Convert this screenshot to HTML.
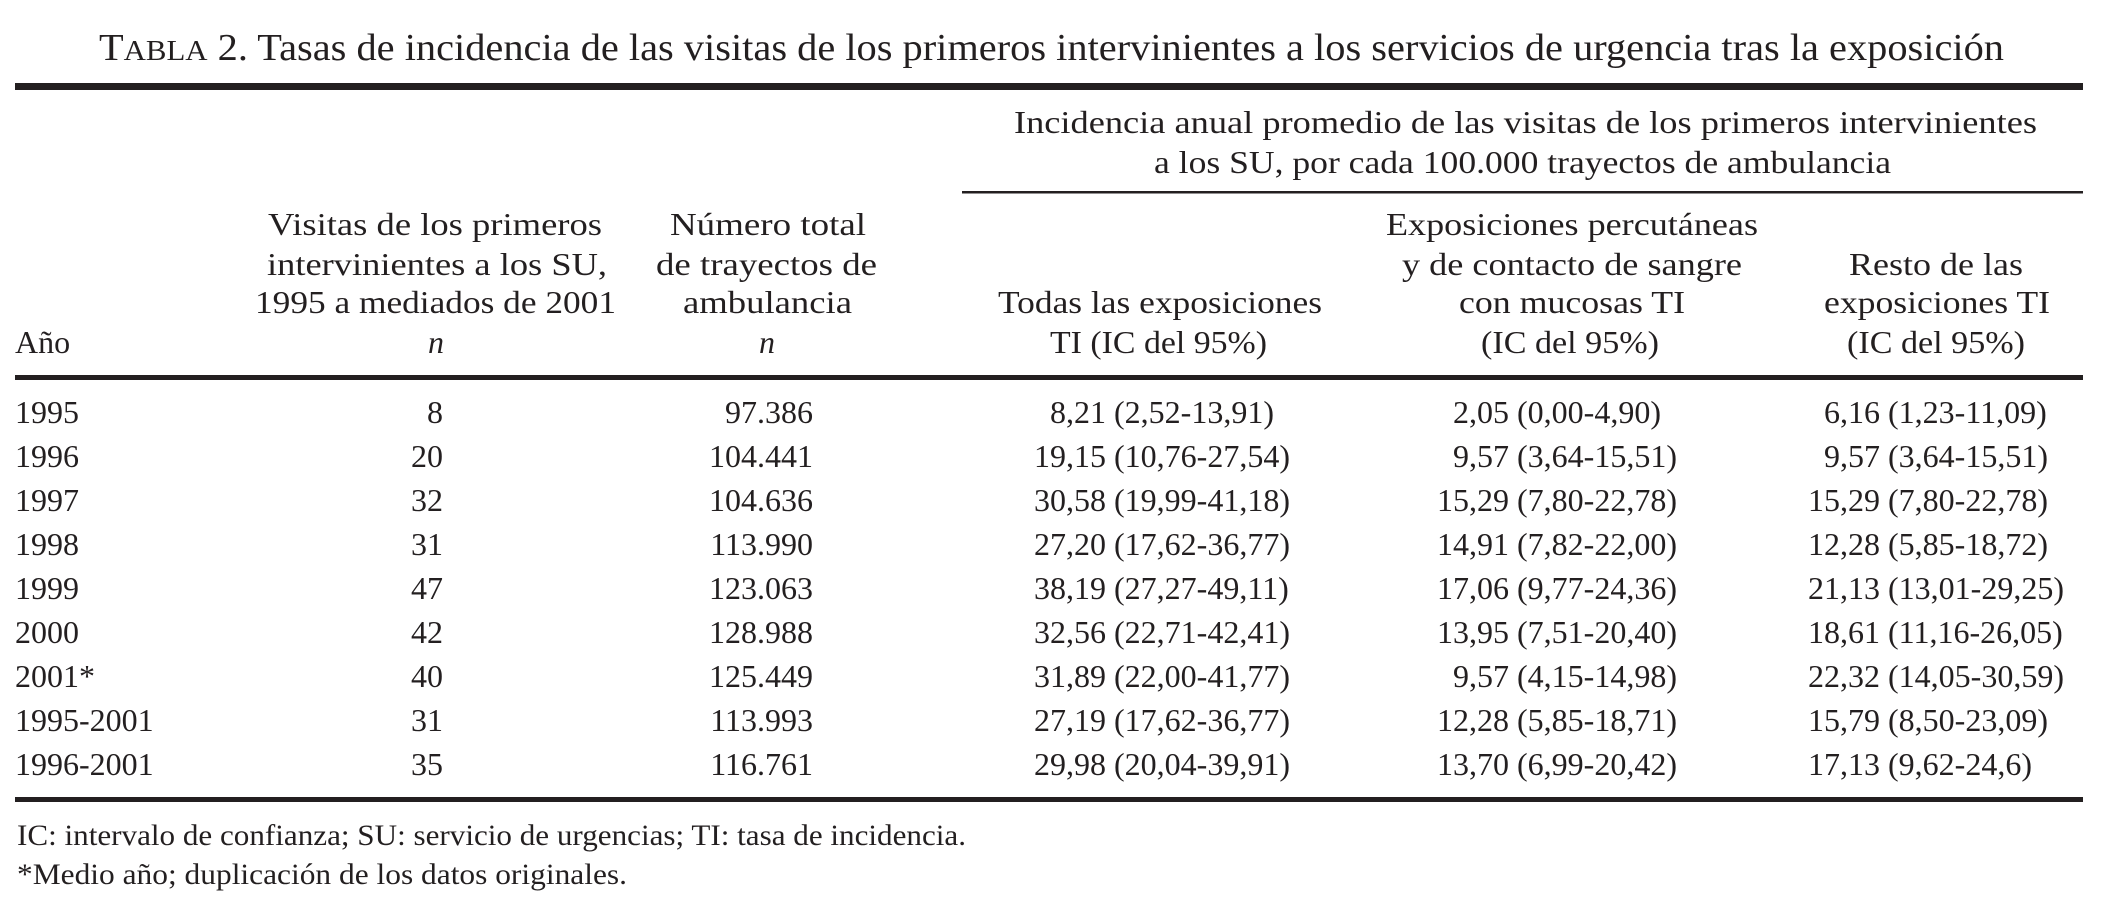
<!DOCTYPE html>
<html><head><meta charset="utf-8"><style>
html,body{margin:0;padding:0;background:#fff;}
svg{display:block;}
text{font-family:"Liberation Serif",serif;fill:#231f20;}
</style></head><body>
<svg id="t" width="2104" height="916" viewBox="0 0 2104 916">
<text x="99" y="60" font-size="38" textLength="1905" lengthAdjust="spacingAndGlyphs">T<tspan font-size="29">ABLA</tspan> 2. Tasas de incidencia de las visitas de los primeros intervinientes a los servicios de urgencia tras la exposición</text>
<rect x="15" y="83" width="2068" height="7" fill="#231f20"/>
<g font-size="32">
<text x="1014" y="133" textLength="1023" lengthAdjust="spacingAndGlyphs">Incidencia anual promedio de las visitas de los primeros intervinientes</text>
<text x="1154" y="173" textLength="737" lengthAdjust="spacingAndGlyphs">a los SU, por cada 100.000 trayectos de ambulancia</text>
</g>
<rect x="962" y="191" width="1121" height="2.5" fill="#231f20"/>
<g font-size="32">
<text x="15" y="353">Año</text>
<text x="268" y="235" textLength="334" lengthAdjust="spacingAndGlyphs">Visitas de los primeros</text>
<text x="267" y="275" textLength="340" lengthAdjust="spacingAndGlyphs">intervinientes a los SU,</text>
<text x="255" y="313" textLength="361" lengthAdjust="spacingAndGlyphs">1995 a mediados de 2001</text>
<text x="436" y="353" text-anchor="middle" font-style="italic">n</text>
<text x="670" y="235" textLength="196" lengthAdjust="spacingAndGlyphs">Número total</text>
<text x="656" y="275" textLength="221" lengthAdjust="spacingAndGlyphs">de trayectos de</text>
<text x="683" y="313" textLength="169" lengthAdjust="spacingAndGlyphs">ambulancia</text>
<text x="767" y="353" text-anchor="middle" font-style="italic">n</text>
<text x="998" y="313" textLength="324" lengthAdjust="spacingAndGlyphs">Todas las exposiciones</text>
<text x="1050" y="353" textLength="217" lengthAdjust="spacingAndGlyphs">TI (IC del 95%)</text>
<text x="1386" y="235" textLength="372" lengthAdjust="spacingAndGlyphs">Exposiciones percutáneas</text>
<text x="1402" y="275" textLength="340" lengthAdjust="spacingAndGlyphs">y de contacto de sangre</text>
<text x="1459" y="313" textLength="226" lengthAdjust="spacingAndGlyphs">con mucosas TI</text>
<text x="1481" y="353" textLength="178" lengthAdjust="spacingAndGlyphs">(IC del 95%)</text>
<text x="1849" y="275" textLength="174" lengthAdjust="spacingAndGlyphs">Resto de las</text>
<text x="1824" y="313" textLength="226" lengthAdjust="spacingAndGlyphs">exposiciones TI</text>
<text x="1847" y="353" textLength="178" lengthAdjust="spacingAndGlyphs">(IC del 95%)</text>
</g>
<rect x="15" y="375" width="2068" height="5" fill="#231f20"/>
<g id="body" font-size="32"></g>
<rect x="15" y="797" width="2068" height="5" fill="#231f20"/>
<text x="17" y="845" font-size="30" textLength="949" lengthAdjust="spacingAndGlyphs">IC: intervalo de confianza; SU: servicio de urgencias; TI: tasa de incidencia.</text>
<text x="17" y="884" font-size="30" textLength="610" lengthAdjust="spacingAndGlyphs">*Medio año; duplicación de los datos originales.</text>
</svg>
<script>
const years = ["1995","1996","1997","1998","1999","2000","2001*","1995-2001","1996-2001"];
const visits = ["8","20","32","31","47","42","40","31","35"];
const trips = ["97.386","104.441","104.636","113.990","123.063","128.988","125.449","113.993","116.761"];
const allRate = ["8,21","19,15","30,58","27,20","38,19","32,56","31,89","27,19","29,98"];
const allCI = ["(2,52-13,91)","(10,76-27,54)","(19,99-41,18)","(17,62-36,77)","(27,27-49,11)","(22,71-42,41)","(22,00-41,77)","(17,62-36,77)","(20,04-39,91)"];
const percRate = ["2,05","9,57","15,29","14,91","17,06","13,95","9,57","12,28","13,70"];
const percCI = ["(0,00-4,90)","(3,64-15,51)","(7,80-22,78)","(7,82-22,00)","(9,77-24,36)","(7,51-20,40)","(4,15-14,98)","(5,85-18,71)","(6,99-20,42)"];
const restRate = ["6,16","9,57","15,29","12,28","21,13","18,61","22,32","15,79","17,13"];
const restCI = ["(1,23-11,09)","(3,64-15,51)","(7,80-22,78)","(5,85-18,72)","(13,01-29,25)","(11,16-26,05)","(14,05-30,59)","(8,50-23,09)","(9,62-24,6)"];
const NS="http://www.w3.org/2000/svg";
const body=document.getElementById('body');
function txt(s,x,y,anchor,name){
  const t=document.createElementNS(NS,'text');
  t.setAttribute('x',x);t.setAttribute('y',y);
  if(anchor) t.setAttribute('text-anchor',anchor);
  
  
  t.textContent=s;body.appendChild(t);return t;
}
const rowY=i=>423+i*44;
years.forEach((yr,i)=>{
  const y=rowY(i);
  txt(yr,15,y,null,'year-cell');
  txt(visits[i],443,y,'end','visits-cell');
  txt(trips[i],813,y,'end','trips-cell');
  txt(allRate[i],1106,y,'end','all-rate-cell');
  txt(allCI[i],1114,y,null,'all-ci-cell');
  txt(percRate[i],1509,y,'end','percutaneous-rate-cell');
  txt(percCI[i],1517,y,null,'percutaneous-ci-cell');
  txt(restRate[i],1880,y,'end','other-rate-cell');
  txt(restCI[i],1888,y,null,'other-ci-cell');
});
</script>
</body></html>
